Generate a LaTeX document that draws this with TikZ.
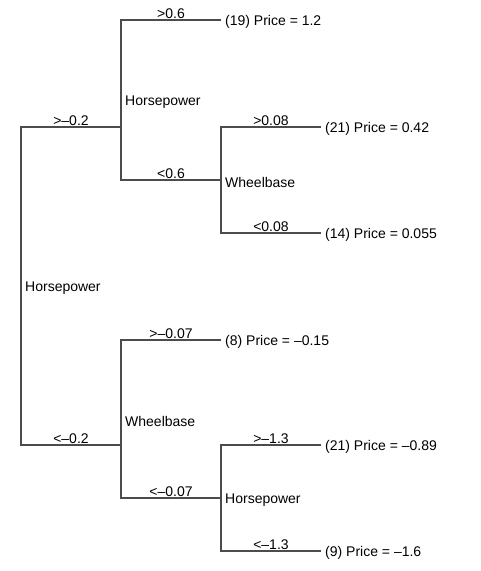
\documentclass[tikz,border=0pt]{standalone}
\usepackage{fontspec}
\setmainfont{Liberation Sans}

\tikzset{
    split/.style={anchor=west, inner xsep=4pt, yshift=-2pt},
    leaf/.style={anchor=west, inner xsep=4pt, yshift=-2pt},
    branch/.style={draw=black!70, line width=1.2pt},
    cut/.style={above, inner sep=0.8pt, pos=0.75}
}

\begin{document}
\begin{tikzpicture}[x=1pt, y=-1pt, font=\fontsize{14}{16}\selectfont]
    \useasboundingbox (0,0) rectangle (481,571);

    % splits
    \path
    (21,286) coordinate (hp) node[split] (hptext) {Horsepower}
    (121,127) coordinate (hpA) ++(0,-27) node[split] (hpAtext) {Horsepower}
    (221,180) coordinate (wbB) node[split] (wbBtext) {Wheelbase}
    (121,445) coordinate (wbC) ++(0,-26) node[split] (wbCtext) {Wheelbase}
    (221,498) coordinate (hpD) node[split] (hpDtext) {Horsepower};

    % leaves
    \path
    (221,20) coordinate (c19) node[leaf] (l19) {(19) Price = 1.2}
    (321,127) coordinate (c21a) node[leaf] (l21a) {(21) Price = 0.42}
    (321,233) coordinate (c14) node[leaf] (l14) {(14) Price = 0.055}
    (221,340) coordinate (c8) node[leaf] (l8) {(8) Price = \textendash0.15}
    (321,445) coordinate (c21b) node[leaf] (l21b) {(21) Price = \textendash0.89}
    (321,551) coordinate (c9) node[leaf] (l9) {(9) Price = \textendash1.6};

    \draw[branch] (hp) |- node[cut] {>\textendash0.2} (hpA);
    \draw[branch] (hp) |- node[cut] {<\textendash0.2} (wbC);
    \draw[branch] (hpA) |- node[cut] {>0.6} (c19);
    \draw[branch] (hpA) |- node[cut] {<0.6} (wbB);
    \draw[branch] (wbB) |- node[cut] {>0.08} (c21a);
    \draw[branch] (wbB) |- node[cut] {<0.08} (c14);
    \draw[branch] (wbC) |- node[cut] {>\textendash0.07} (c8);
    \draw[branch] (wbC) |- node[cut] {<\textendash0.07} (hpD);
    \draw[branch] (hpD) |- node[cut] {>\textendash1.3} (c21b);
    \draw[branch] (hpD) |- node[cut] {<\textendash1.3} (c9);
\end{tikzpicture}
\end{document}
